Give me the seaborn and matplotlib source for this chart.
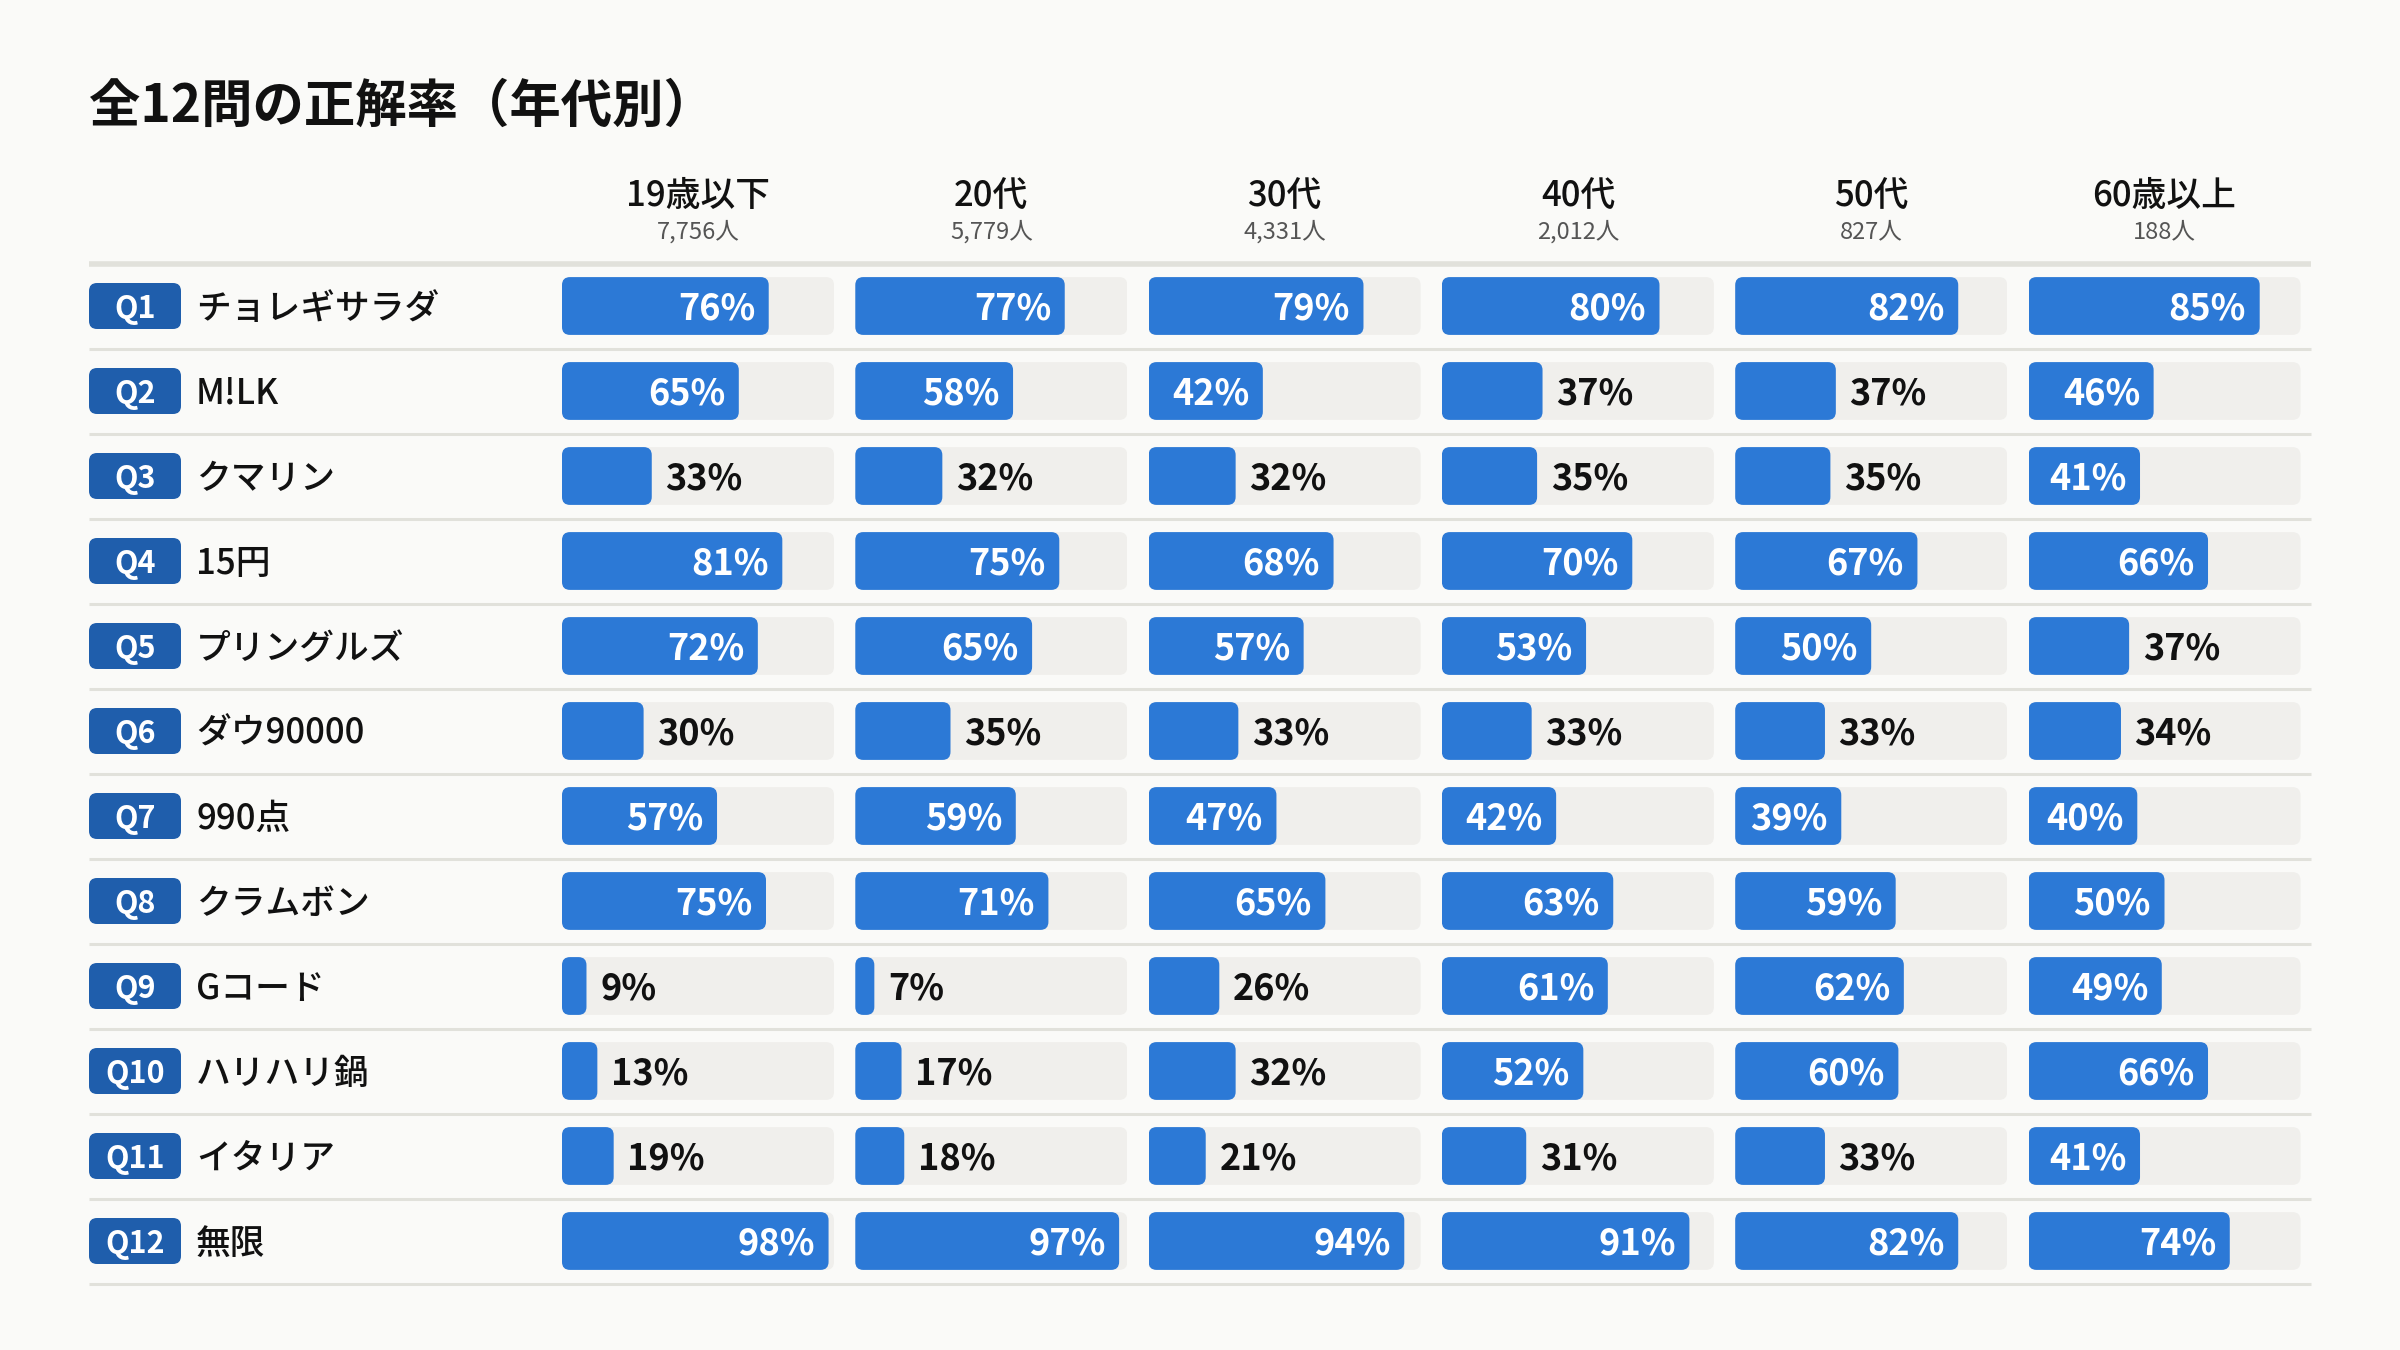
import pandas as pd
import matplotlib.pyplot as plt
import seaborn as sns
from matplotlib.patches import FancyBboxPatch

# =====================================================
# DATA
# =====================================================

questions = ["Q1", "Q2", "Q3", "Q4", "Q5", "Q6", "Q7", "Q8", "Q9", "Q10", "Q11", "Q12"]
answers = ["チョレギサラダ", "M!LK", "クマリン", "15円", "プリングルズ", "ダウ90000",
           "990点", "クラムボン", "Gコード", "ハリハリ鍋", "イタリア", "無限"]
age_groups = ["19歳以下", "20代", "30代", "40代", "50代", "60歳以上"]
respondents = ["7,756人", "5,779人", "4,331人", "2,012人", "827人", "188人"]

rate_u19 = [76, 65, 33, 81, 72, 30, 57, 75, 9, 13, 19, 98]
rate_20s = [77, 58, 32, 75, 65, 35, 59, 71, 7, 17, 18, 97]
rate_30s = [79, 42, 32, 68, 57, 33, 47, 65, 26, 32, 21, 94]
rate_40s = [80, 37, 35, 70, 53, 33, 42, 63, 61, 52, 31, 91]
rate_50s = [82, 37, 35, 67, 50, 33, 39, 59, 62, 60, 33, 82]
rate_60p = [85, 46, 41, 66, 37, 34, 40, 50, 49, 66, 41, 74]
rates = [rate_u19, rate_20s, rate_30s, rate_40s, rate_50s, rate_60p]

# =====================================================
# STYLE
# =====================================================

BG = "#FAFAF8"
BLUE = "#2C79D6"
BADGE = "#1F5EAC"
TRACK = "#F0EFEC"
LINE = "#E1E1DB"

sns.set_theme(style="white")
plt.rcParams["font.family"] = ["Noto Sans CJK JP", "DejaVu Sans"]

W, H = 2400, 1350
fig = plt.figure(figsize=(24, 13.5), dpi=100, facecolor=BG)

# overlay axes in pixel coordinates
bg = fig.add_axes([0, 0, 1, 1], zorder=0)
bg.set_xlim(0, W)
bg.set_ylim(H, 0)
bg.axis("off")
bg.set_facecolor(BG)

top, pitch = 263.5, 85.0
n = len(questions)
col_left0, col_step, col_w = 562, 293.3, 272
line_x0, line_x1 = 89, 2311

# title
bg.text(line_x0, 106, "全12問の正解率（年代別）", fontsize=37, fontweight="bold",
        color="#111111", ha="left", va="center")

# separators
for k in range(n + 1):
    y = top + k * pitch
    bg.plot([line_x0, line_x1], [y, y], color=LINE, lw=4 if k == 0 else 2.2,
            solid_capstyle="butt", zorder=1)

# badges + answer labels
for i, (q, a) in enumerate(zip(questions, answers)):
    cy = top + (i + 0.5) * pitch
    bg.add_patch(FancyBboxPatch((89, cy - 23), 92, 46,
                                boxstyle="round,pad=0,rounding_size=8",
                                facecolor=BADGE, edgecolor="none", zorder=2))
    bg.text(135, cy + 3, q, fontsize=22, fontweight="bold", color="white",
            ha="center", va="center", zorder=3)
    bg.text(196, cy + 3, a, fontsize=25, fontweight="medium", color="#111111",
            ha="left", va="center", zorder=3)

# =====================================================
# BARS - one seaborn barplot per age group
# =====================================================

bar_h = 0.68
rx = 8 / (col_w / 100)      # radius in x units
ry = 8 / pitch              # radius in y units

for j, (grp, cnt, vals) in enumerate(zip(age_groups, respondents, rates)):
    left = col_left0 + j * col_step
    ax = fig.add_axes([left / W, 1 - (top + n * pitch) / H, col_w / W, n * pitch / H], zorder=2)
    ax.patch.set_alpha(0)

    df = pd.DataFrame({"question": questions, "rate": vals, "full": [100] * n})
    sns.barplot(data=df, x="full", y="question", color=TRACK, saturation=1,
                width=bar_h, errorbar=None, ax=ax, orient="h")
    sns.barplot(data=df, x="rate", y="question", color=BLUE, saturation=1,
                width=bar_h, errorbar=None, ax=ax, orient="h")

    # swap plain rectangles for rounded ones
    for p in list(ax.patches):
        x0, y0, w, h = p.get_x(), p.get_y(), p.get_width(), p.get_height()
        fc = p.get_facecolor()
        p.remove()
        ax.add_patch(FancyBboxPatch((x0, y0), w, h,
                                    boxstyle=f"round,pad=0,rounding_size={rx}",
                                    mutation_aspect=ry / rx,
                                    facecolor=fc, edgecolor="none"))

    for i, v in enumerate(vals):
        if v >= 38:
            ax.text(v - 5, i + 0.03, f"{v}%", ha="right", va="center", color="white",
                    fontsize=26, fontweight="bold")
        else:
            ax.text(v + 5, i + 0.03, f"{v}%", ha="left", va="center", color="#111111",
                    fontsize=26, fontweight="bold")

    ax.set_xlim(0, 100)
    ax.set_ylim(n - 0.5, -0.5)
    ax.axis("off")

    cx = left + col_w / 2
    bg.text(cx, 196, grp, fontsize=25, fontweight="medium", color="#111111",
            ha="center", va="center")
    bg.text(cx, 232, cnt, fontsize=17, color="#555555", ha="center", va="center")

fig.savefig("out.png", dpi=100, facecolor=BG)
